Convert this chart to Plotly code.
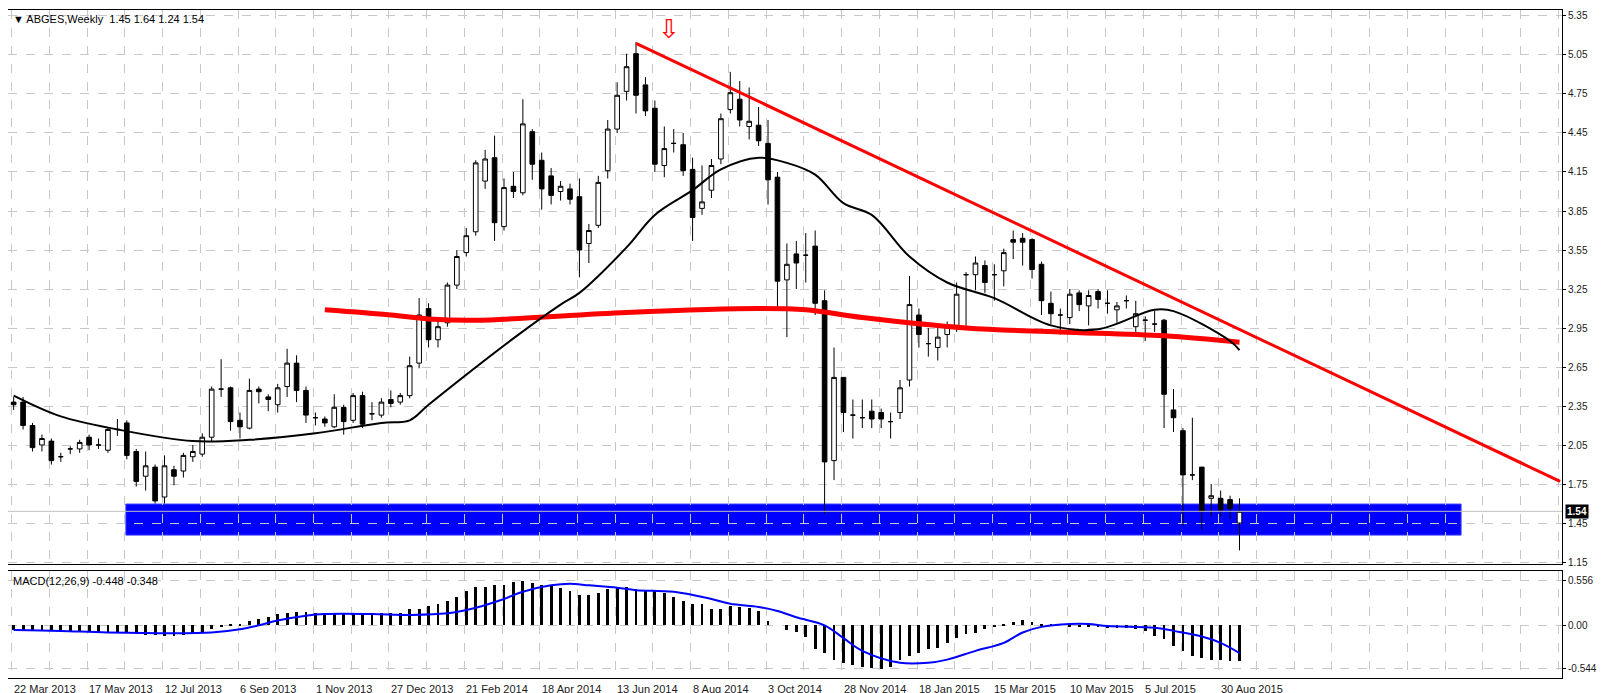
import plotly.graph_objects as go
from plotly.subplots import make_subplots

# weekly candles, index 0 = week of 22 Mar 2013
opens = [2.38, 2.38, 2.20, 2.05, 2.08, 1.96, 2.02, 2.02, 2.11, 2.05, 2.01, 2.17, 2.22, 2.00, 1.81, 1.88, 1.65, 1.86, 1.85, 1.96,
         1.98, 2.11, 2.48, 2.49, 2.24, 2.18, 2.48, 2.42, 2.36, 2.50, 2.68, 2.47, 2.26, 2.25, 2.19, 2.34, 2.24, 2.43, 2.29, 2.28,
         2.40, 2.38, 2.43, 2.68, 3.10, 2.86, 2.99, 3.28, 3.53, 3.69, 4.08, 4.26, 3.73, 4.04, 3.99, 4.46, 4.24, 4.12, 4.00, 4.02,
         3.96, 3.60, 3.74, 4.16, 4.48, 4.77, 5.06, 4.82, 4.64, 4.20, 4.37, 4.36, 4.17, 3.87, 4.01, 4.25, 4.63, 4.71, 4.50, 4.51,
         4.37, 4.11, 3.32, 3.52, 3.51, 3.58, 3.16, 1.93, 2.57, 2.28, 2.26, 2.31, 2.30, 2.23, 2.30, 2.55, 3.05, 2.83, 2.80, 2.90,
         2.96, 3.36, 3.36, 3.43, 3.36, 3.39, 3.63, 3.64, 3.63, 3.44, 3.14, 3.05, 3.03, 3.22, 3.12, 3.23, 3.14, 3.09, 3.16, 2.96,
         3.01, 2.98, 3.01, 2.32, 2.16, 1.82, 1.88, 1.64, 1.64, 1.63, 1.45]
highs = [2.42, 2.42, 2.22, 2.13, 2.10, 1.99, 2.04, 2.09, 2.13, 2.10, 2.18, 2.25, 2.24, 2.02, 2.00, 1.90, 1.97, 1.89, 1.99, 2.05,
         2.14, 2.50, 2.71, 2.50, 2.30, 2.56, 2.50, 2.44, 2.52, 2.79, 2.74, 2.50, 2.30, 2.27, 2.44, 2.36, 2.45, 2.46, 2.38, 2.41,
         2.47, 2.45, 2.73, 3.18, 3.14, 3.02, 3.30, 3.55, 3.72, 4.24, 4.32, 4.43, 4.10, 4.15, 4.71, 4.48, 4.30, 4.18, 4.08, 4.06,
         4.10, 3.75, 4.12, 4.55, 4.84, 5.06, 5.15, 4.88, 4.70, 4.50, 4.48, 4.45, 4.26, 4.20, 4.25, 4.60, 4.92, 4.85, 4.80, 4.65,
         4.55, 4.15, 3.60, 3.62, 3.68, 3.70, 3.24, 2.80, 2.57, 2.40, 2.40, 2.40, 2.33, 2.30, 2.55, 3.35, 3.10, 2.95, 2.97, 3.00,
         3.30, 3.38, 3.50, 3.47, 3.44, 3.56, 3.70, 3.68, 3.64, 3.46, 3.23, 3.10, 3.25, 3.24, 3.24, 3.25, 3.24, 3.15, 3.20, 3.16,
         3.04, 3.08, 3.02, 2.48, 2.18, 2.26, 1.88, 1.75, 1.70, 1.66, 1.64]
lows = [2.32, 2.17, 2.00, 2.00, 1.90, 1.92, 1.98, 1.99, 2.01, 2.02, 1.99, 2.12, 1.94, 1.73, 1.70, 1.60, 1.60, 1.74, 1.80, 1.92,
        1.96, 2.08, 2.42, 2.16, 2.10, 2.17, 2.37, 2.31, 2.30, 2.42, 2.38, 2.22, 2.20, 2.19, 2.18, 2.13, 2.22, 2.18, 2.24, 2.26,
        2.34, 2.36, 2.41, 2.64, 2.80, 2.80, 2.96, 3.25, 3.50, 3.66, 4.02, 3.62, 3.70, 3.95, 3.97, 4.09, 3.86, 3.90, 3.93, 3.90,
        3.34, 3.45, 3.72, 4.10, 4.45, 4.70, 4.60, 4.58, 4.15, 4.11, 4.30, 4.12, 3.62, 3.82, 3.95, 4.21, 4.60, 4.50, 4.40, 4.35,
        3.90, 3.10, 2.88, 3.25, 3.30, 3.05, 1.52, 1.78, 2.15, 2.10, 2.18, 2.18, 2.18, 2.10, 2.25, 2.50, 2.80, 2.73, 2.70, 2.80,
        2.92, 2.95, 3.24, 3.22, 3.16, 3.27, 3.48, 3.43, 3.33, 3.05, 2.98, 2.90, 2.98, 3.08, 2.97, 3.10, 3.06, 2.99, 3.10, 2.92,
        2.85, 2.92, 2.18, 2.15, 1.43, 1.78, 1.40, 1.50, 1.50, 1.48, 1.24]
closes = [2.36, 2.20, 2.03, 2.10, 1.93, 1.96, 2.02, 2.07, 2.05, 2.05, 2.17, 2.17, 1.97, 1.77, 1.89, 1.62, 1.89, 1.81, 1.97, 2.00,
          2.11, 2.48, 2.48, 2.23, 2.19, 2.47, 2.46, 2.40, 2.49, 2.68, 2.47, 2.28, 2.26, 2.22, 2.34, 2.23, 2.43, 2.21, 2.29, 2.38,
          2.37, 2.43, 2.66, 3.05, 2.86, 2.96, 3.28, 3.50, 3.66, 4.22, 4.25, 3.76, 4.03, 4.00, 4.52, 4.21, 4.02, 3.97, 4.04, 3.94,
          3.55, 3.70, 4.07, 4.48, 4.74, 4.96, 4.74, 4.62, 4.21, 4.33, 4.37, 4.16, 3.80, 3.92, 4.20, 4.56, 4.76, 4.55, 4.54, 4.39,
          4.09, 3.31, 3.44, 3.45, 3.51, 3.14, 1.92, 2.57, 2.30, 2.28, 2.26, 2.25, 2.25, 2.23, 2.49, 3.13, 2.90, 2.83, 2.88, 2.97,
          3.21, 3.36, 3.45, 3.30, 3.36, 3.53, 3.61, 3.61, 3.40, 3.16, 3.06, 3.05, 3.21, 3.13, 3.20, 3.17, 3.14, 3.12, 3.16, 3.06,
          3.01, 2.98, 2.44, 2.26, 1.82, 1.82, 1.54, 1.66, 1.55, 1.56, 1.54]

# moving averages read at a few weeks
ma_black_week = [0, 5, 11, 19, 25, 32, 39, 42, 44, 53, 58, 60, 65, 68, 72, 75, 79, 82, 85, 88, 91, 95, 99, 104, 110, 115, 121, 123, 129, 130]
ma_black = [2.43, 2.27, 2.17, 2.08, 2.09, 2.14, 2.22, 2.24, 2.36, 2.87, 3.13, 3.22, 3.57, 3.82, 4.01, 4.17, 4.26, 4.22, 4.13, 3.91,
            3.82, 3.50, 3.30, 3.18, 2.97, 2.94, 3.09, 3.08, 2.85, 2.78]
ma_red_week = [33, 40, 44, 49, 65, 79, 84, 90, 101, 111, 122, 130]
ma_red = [3.09, 3.05, 3.02, 3.01, 3.07, 3.10, 3.09, 3.03, 2.95, 2.92, 2.89, 2.84]

trend_week = [66, 164]
trend_price = [5.14, 1.77]

# MACD(12,26,9)
macd_main = [-0.06, -0.07, -0.07, -0.07, -0.07, -0.08, -0.08, -0.08, -0.08, -0.08, -0.08, -0.09, -0.10, -0.11, -0.12, -0.12,
             -0.13, -0.13, -0.12, -0.11, -0.08, -0.05, -0.02, 0.01, 0.02, 0.05, 0.08, 0.11, 0.14, 0.16, 0.17, 0.17,
             0.15, 0.15, 0.15, 0.15, 0.15, 0.15, 0.15, 0.15, 0.15, 0.16, 0.20, 0.21, 0.245, 0.27, 0.31, 0.36,
             0.43, 0.48, 0.48, 0.51, 0.51, 0.54, 0.556, 0.53, 0.51, 0.49, 0.47, 0.43, 0.38, 0.38, 0.41, 0.45,
             0.47, 0.48, 0.46, 0.43, 0.43, 0.41, 0.36, 0.30, 0.27, 0.27,
             0.20, 0.20, 0.24, 0.23, 0.22, 0.18, 0.06, 0.0, -0.06, -0.09, -0.15, -0.30, -0.35, -0.43, -0.47, -0.50,
             -0.52, -0.53, -0.544, -0.52, -0.44, -0.38, -0.35, -0.30, -0.28, -0.22, -0.16, -0.11, -0.10, -0.05, -0.01, 0.015,
             0.04, 0.065, 0.04, 0.015, 0.01, 0.0, -0.02, -0.02, -0.02, -0.02, -0.03, -0.03, -0.03, -0.05, -0.07, -0.14,
             -0.17, -0.26, -0.32, -0.38, -0.41, -0.43, -0.44, -0.448, -0.448]
signal_week = [0, 5, 10, 21, 24, 26, 28, 31, 33, 38, 42, 46, 49, 52, 54, 57, 59, 61, 64, 66, 70, 74, 76, 79, 81, 83, 86, 88,
               90, 94, 97, 99, 102, 105, 107, 109, 112, 114, 116, 121, 123, 126, 128, 130]
signal = [-0.06, -0.07, -0.09, -0.09, -0.05, 0.0, 0.06, 0.12, 0.14, 0.14, 0.13, 0.15, 0.22, 0.33, 0.42, 0.50, 0.52, 0.50, 0.47,
          0.44, 0.42, 0.33, 0.27, 0.23, 0.18, 0.10, 0.0, -0.16, -0.32, -0.47, -0.47, -0.43, -0.32, -0.22, -0.09, -0.02, 0.015,
          0.015, -0.01, -0.03, -0.07, -0.14, -0.22, -0.348]

date_labels = ['22 Mar 2013', '17 May 2013', '12 Jul 2013', '6 Sep 2013', '1 Nov 2013', '27 Dec 2013', '21 Feb 2014',
               '18 Apr 2014', '13 Jun 2014', '8 Aug 2014', '3 Oct 2014', '28 Nov 2014', '18 Jan 2015', '15 Mar 2015',
               '10 May 2015', '5 Jul 2015', '30 Aug 2015']
price_ticks = [1.15, 1.45, 1.75, 2.05, 2.35, 2.65, 2.95, 3.25, 3.55, 3.85, 4.15, 4.45, 4.75, 5.05, 5.35]
macd_ticks = [0.556, 0.0, -0.544]

weeks = list(range(len(closes)))
font = 'Liberation Sans'

fig = make_subplots(rows=2, cols=1, shared_xaxes=True, vertical_spacing=0.0105,
                    row_heights=[0.8293, 0.1602])

fig.add_trace(go.Candlestick(x=weeks, open=opens, high=highs, low=lows, close=closes,
                             increasing=dict(line=dict(color='black', width=1), fillcolor='white'),
                             decreasing=dict(line=dict(color='black', width=1), fillcolor='black'),
                             whiskerwidth=0, showlegend=False), row=1, col=1)
fig.add_trace(go.Scatter(x=ma_red_week, y=ma_red, mode='lines', line=dict(color='#ff0000', width=5, shape='spline'),
                         showlegend=False), row=1, col=1)
fig.add_trace(go.Scatter(x=ma_black_week, y=ma_black, mode='lines', line=dict(color='black', width=2, shape='spline'),
                         showlegend=False), row=1, col=1)
fig.add_trace(go.Scatter(x=trend_week, y=trend_price, mode='lines', line=dict(color='#ff0000', width=3),
                         showlegend=False), row=1, col=1)

fig.add_trace(go.Bar(x=weeks, y=macd_main, marker=dict(color='black', line=dict(width=0)), width=0.3,
                     showlegend=False), row=2, col=1)
fig.add_trace(go.Scatter(x=signal_week, y=signal, mode='lines', line=dict(color='#0000ff', width=2, shape='spline'),
                         showlegend=False), row=2, col=1)

# support zone and bid line
fig.add_shape(type='rect', x0=11.9, x1=153.5, y0=1.357, y1=1.596, xref='x', yref='y',
              fillcolor='#0000ff', line=dict(color='#4040ff', width=1), layer='below')
fig.add_shape(type='line', x0=-1, x1=164.2, y0=1.54, y1=1.54, xref='x', yref='y',
              line=dict(color='#c0c0c0', width=1))

grid = dict(showgrid=True, gridcolor='#c8c8c8', griddash='dash', gridwidth=1)
fig.update_xaxes(range=[-0.6, 164.2], tick0=3.8, dtick=4, showticklabels=False, ticks='',
                 showline=True, linecolor='black', mirror=True, zeroline=False, **grid)
fig.update_xaxes(rangeslider_visible=False, row=1, col=1)
fig.update_yaxes(side='right', range=[1.135, 5.396], tickvals=price_ticks, ticktext=['%.2f' % v for v in price_ticks],
                 ticks='outside', ticklen=3, tickcolor='black', showline=True, linecolor='black', mirror=True,
                 zeroline=False, tickfont=dict(family=font, size=10, color='#202020'), **grid, row=1, col=1)
fig.update_yaxes(side='right', range=[-0.66, 0.68], tickvals=macd_ticks, ticktext=['0.556', '0.00', '-0.544'],
                 ticks='outside', ticklen=3, tickcolor='black', showline=True, linecolor='black', mirror=True,
                 zeroline=False, tickfont=dict(family=font, size=10, color='#202020'), **grid, row=2, col=1)

for k, lab in enumerate(date_labels):
    fig.add_annotation(x=-0.2 + 8 * k, y=-0.004, xref='x', yref='paper', text=lab, showarrow=False,
                       xanchor='left', yanchor='top', font=dict(family=font, size=11, color='#202020'))

fig.add_annotation(x=0.002, y=0.999, xref='paper', yref='paper', xanchor='left', yanchor='top', showarrow=False,
                   text='▼ ABGES,Weekly  1.45 1.64 1.24 1.54', font=dict(family=font, size=11, color='black'))
fig.add_annotation(x=0.002, y=0.157, xref='paper', yref='paper', xanchor='left', yanchor='top', showarrow=False,
                   text='MACD(12,26,9) -0.448 -0.348', font=dict(family=font, size=11, color='black'))
fig.add_annotation(x=1.0, y=1.54, xref='paper', yref='y', xanchor='left', showarrow=False, text='<b>1.54</b>',
                   bgcolor='black', font=dict(family=font, size=10, color='white'), xshift=3)
fig.add_annotation(x=69.5, y=5.25, xref='x', yref='y', showarrow=False, text='⇩',
                   font=dict(family='DejaVu Sans', size=26, color='#ff0000'))

fig.update_layout(width=1607, height=693, margin=dict(l=0, r=53, t=2, b=23),
                  plot_bgcolor='white', paper_bgcolor='white', bargap=0, dragmode=False)

fig.write_html('out.html')
